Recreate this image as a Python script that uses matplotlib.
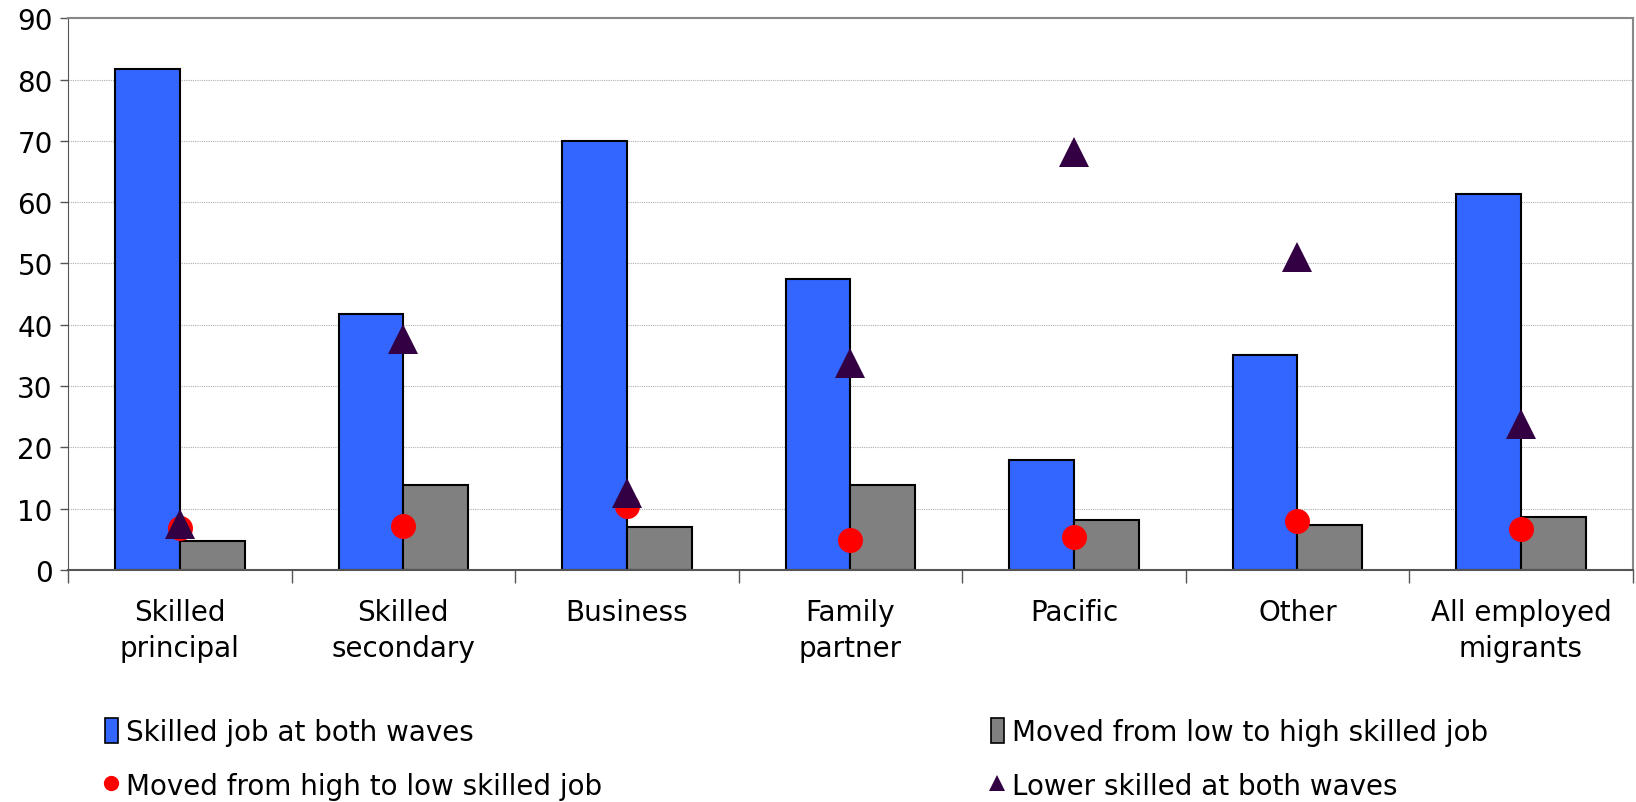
import numpy as np
import matplotlib
matplotlib.use("Agg")
import matplotlib.pyplot as plt
from matplotlib.lines import Line2D
from matplotlib.patches import Patch

# chart data
categories = ["Skilled\nprincipal", "Skilled\nsecondary", "Business", "Family\npartner",
              "Pacific", "Other", "All employed\nmigrants"]
skilled_both = [81.7, 41.8, 70.0, 47.4, 18.0, 35.0, 61.4]
low_to_high = [4.8, 13.8, 7.0, 13.8, 8.2, 7.3, 8.7]
high_to_low = [6.8, 7.1, 10.4, 4.9, 5.4, 8.0, 6.7]
lower_both = [7.5, 37.6, 12.6, 33.7, 68.2, 51.0, 23.8]
series_names = ["Skilled job at both waves", "Moved from low to high skilled job",
                "Moved from high to low skilled job", "Lower skilled at both waves"]

plt.rcParams['font.family'] = ['DejaVu Sans']
FS = 20

fig = plt.figure(figsize=(16.36, 8.03), dpi=100)
ax = fig.add_axes([0.0416, 0.289, 0.9564, 0.687])

x = np.arange(len(categories))
w = 0.29
ax.bar(x - w / 2, skilled_both, w, color="#3366FF", edgecolor="black", linewidth=1.5, zorder=2)
ax.bar(x + w / 2, low_to_high, w, color="#808080", edgecolor="black", linewidth=1.5, zorder=2)
ax.plot(x, high_to_low, "o", color="#FF0000", markersize=18, markeredgewidth=0, zorder=3)
ax.plot(x, lower_both, "^", color="#330044", markersize=21, markeredgewidth=0, zorder=4)

ax.set_xlim(-0.5, len(categories) - 0.5)
ax.set_ylim(0, 90)
ax.set_yticks(range(0, 91, 10))
ax.yaxis.grid(True, color="#b0b0b0", linewidth=0.8, linestyle=(0, (1, 1)), zorder=0)

ax.set_xticks(x)
ax.set_xticklabels(categories, fontsize=FS, linespacing=1.38)
ax.set_xticks(np.arange(len(categories) + 1) - 0.5, minor=True)
ax.tick_params(axis="x", which="major", length=0, pad=20)
ax.tick_params(axis="x", which="minor", length=9, width=1, color="#555555")
ax.tick_params(axis="y", length=6, width=1, color="#555555", labelsize=FS, pad=5)

for side in ["top", "right"]:
    ax.spines[side].set_color("#888888")
    ax.spines[side].set_linewidth(1.5)
ax.spines["left"].set_color("#555555")
ax.spines["bottom"].set_color("#555555")
ax.spines["bottom"].set_linewidth(1.5)

handles = [
    Patch(facecolor="#3366FF", edgecolor="black", linewidth=1.2),
    Line2D([], [], marker="o", color="#FF0000", linestyle="none", markersize=11, markeredgewidth=0),
    Patch(facecolor="#808080", edgecolor="black", linewidth=1.2),
    Line2D([], [], marker="^", color="#330044", linestyle="none", markersize=12, markeredgewidth=0),
]
labels = [series_names[0], series_names[2], series_names[1], series_names[3]]
fig.legend(handles, labels, ncol=2, loc="lower left", bbox_to_anchor=(0.049, -0.029),
           frameon=False, fontsize=FS, handlelength=0.45, handleheight=1.0, handletextpad=0.3,
           columnspacing=14.0, labelspacing=0.96)

fig.savefig("out.png", dpi=100)
